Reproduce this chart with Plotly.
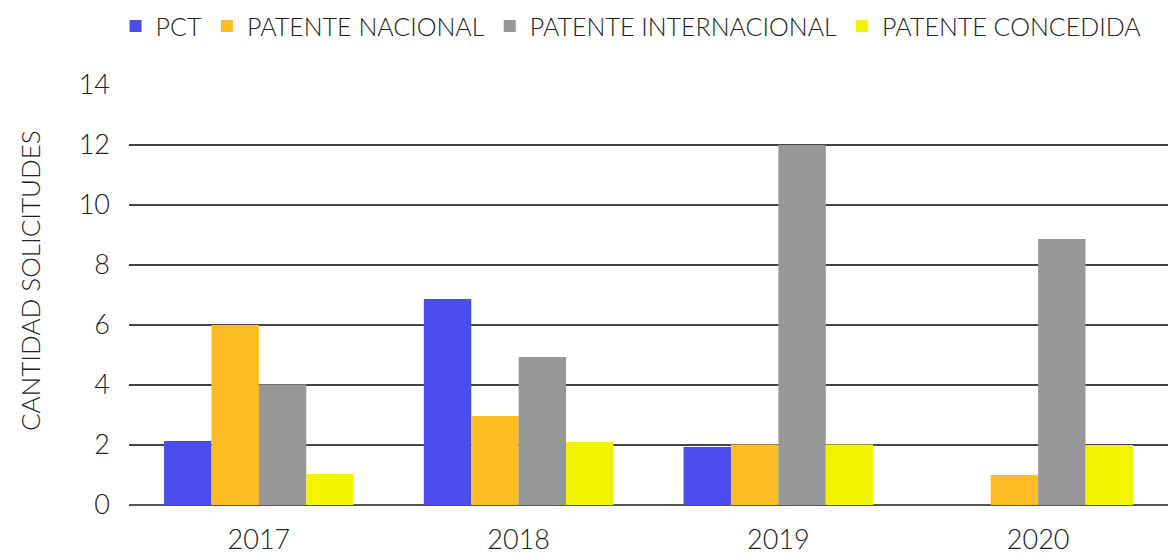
import plotly.graph_objects as go

years = ["2017", "2018", "2019", "2020"]
series_names = ["PCT", "PATENTE NACIONAL", "PATENTE INTERNACIONAL", "PATENTE CONCEDIDA"]
pct = [2.13, 6.87, 1.93, 0]
nacional = [6.0, 2.97, 2.02, 1.0]
internacional = [4.02, 4.93, 12.0, 8.87]
concedida = [1.03, 2.1, 2.02, 2.0]
colors = ["#4b4cec", "#ffbb22", "#969799", "#f3f300"]
y_ticks = [0, 2, 4, 6, 8, 10, 12, 14]
y_title = "CANTIDAD SOLICITUDES"

FONT = "Lato"
TXT = "#222222"

fig = go.Figure()
for name, vals, col in zip(series_names, [pct, nacional, internacional, concedida], colors):
    fig.add_trace(go.Bar(x=years, y=vals, name=name, marker=dict(color=col, line=dict(width=0))))

fig.add_annotation(text=y_title, textangle=-90, xref="paper", yref="paper",
                   x=(30 - 129) / 1039, y=(505 - 281) / 420, xanchor="center", yanchor="middle",
                   showarrow=False, font=dict(family=FONT, size=26, color=TXT, weight=300))

fig.update_layout(
    width=1172, height=556,
    paper_bgcolor="white", plot_bgcolor="white",
    margin=dict(l=129, r=4, t=85, b=51, autoexpand=False),
    barmode="group", bargap=0.27, bargroupgap=0,
    font=dict(family=FONT, color=TXT, size=25, weight=300),
    showlegend=True,
    legend=dict(orientation="h", xref="container", yref="container",
                x=0.0986, y=0.953, xanchor="left", yanchor="middle",
                font=dict(family=FONT, size=25, color=TXT, weight=300),
                itemwidth=30, tracegroupgap=0, bgcolor="rgba(0,0,0,0)"),
    xaxis=dict(type="category", showgrid=False, showline=False, ticks="",
               ticklabelstandoff=16,
               tickfont=dict(family=FONT, size=27, color=TXT, weight=300)),
    yaxis=dict(range=[0, 14], tickvals=y_ticks, showgrid=True, gridcolor="#444444", gridwidth=1.5,
               zeroline=True, zerolinecolor="#555555", zerolinewidth=2,
               showline=False, ticks="", ticklabelstandoff=18,
               tickfont=dict(family=FONT, size=27, color=TXT, weight=300)),
)

fig.write_html("out.html", config={"displayModeBar": False},
               post_script="document.body.style.margin='0';document.body.style.padding='0';")
